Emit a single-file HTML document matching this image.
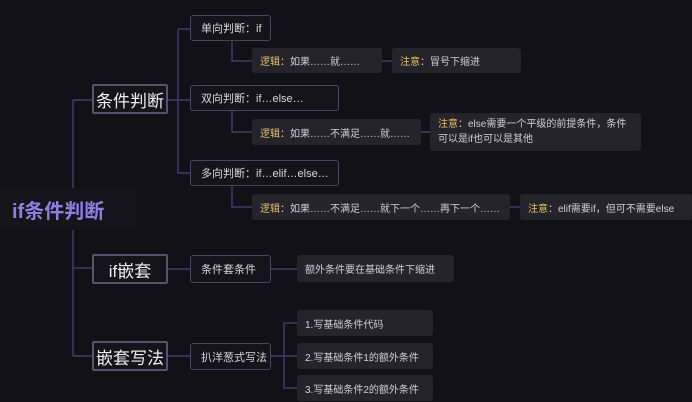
<!DOCTYPE html>
<html><head><meta charset="utf-8"><style>
body{margin:0;width:692px;height:402px;background:#121117;position:relative;overflow:hidden;font-family:"Liberation Sans","Noto Sans CJK SC",sans-serif;color:#d8d8dc}
.b{position:absolute;box-sizing:border-box;display:flex;align-items:center;white-space:nowrap}
.n{border:1.5px solid #4a4660;border-radius:3px;background:#15141b;font-size:11px;padding-left:10px}
.l1{border:2px solid #57526e;border-radius:2px;background:#15141b;font-size:17px;justify-content:center;color:#eee}
.lf{background:#25242b;border-radius:3px;font-size:10px;padding-left:8px;color:#cfcfd4}
.y{color:#e6c06a}
svg{position:absolute;left:0;top:0}
</style></head><body>
<svg width="692" height="402" fill="none" stroke="#3e3a70" stroke-width="1.5">
<path d="M73 100V356M73 100H92M73 268H92M73 356H92M135 209H73"/>
<path d="M168 100H190M178 29V173H190M178 29H190"/>
<path d="M232 41V61H252M382 61H392M232 111V132H252M421 132H430M232 186V207H252M510 207H520"/>
<path d="M168 269H190M271 269H297M168 356H190M271 356H297M284 323V388H297M284 323H297"/>
</svg>
<div class="b" style="left:0px;top:188px;width:136px;height:42px;background:#15141a;font-size:20px;color:#8d80e4;padding-left:12px;font-weight:bold">if条件判断</div>
<div class="b l1" style="left:92px;top:84px;width:76px;height:30px">条件判断</div>
<div class="b l1" style="left:92px;top:254px;width:76px;height:30px">if嵌套</div>
<div class="b l1" style="left:92px;top:341px;width:76px;height:30px">嵌套写法</div>
<div class="b n" style="left:190px;top:15px;width:81px;height:26px">单向判断：if</div>
<div class="b n" style="left:190px;top:85px;width:149px;height:26px">双向判断：if…else…</div>
<div class="b n" style="left:190px;top:160px;width:149px;height:26px">多向判断：if…elif…else…</div>
<div class="b n" style="left:190px;top:255px;width:81px;height:28px">条件套条件</div>
<div class="b n" style="left:190px;top:343px;width:81px;height:27px">扒洋葱式写法</div>
<div class="b lf" style="left:252px;top:48px;width:130px;height:25px"><span class="y">逻辑</span>：如果……就……</div>
<div class="b lf" style="left:392px;top:48px;width:129px;height:25px"><span class="y">注意</span>：冒号下缩进</div>
<div class="b lf" style="left:252px;top:119px;width:169px;height:26px"><span class="y">逻辑</span>：如果……不满足……就……</div>
<div class="b lf" style="left:430px;top:113px;width:211px;height:38px;white-space:normal;line-height:15px;padding-right:6px"><span><span class="y">注意</span>：else需要一个平级的前提条件，条件可以是if也可以是其他</span></div>
<div class="b lf" style="left:252px;top:194px;width:258px;height:26px"><span class="y">逻辑</span>：如果……不满足……就下一个……再下一个……</div>
<div class="b lf" style="left:520px;top:194px;width:172px;height:26px"><span class="y">注意</span>：elif需要if，但可不需要else</div>
<div class="b lf" style="left:297px;top:255px;width:157px;height:27px">额外条件要在基础条件下缩进</div>
<div class="b lf" style="left:297px;top:310px;width:136px;height:26px">1.写基础条件代码</div>
<div class="b lf" style="left:297px;top:343px;width:136px;height:26px">2.写基础条件1的额外条件</div>
<div class="b lf" style="left:297px;top:375px;width:136px;height:26px">3.写基础条件2的额外条件</div>
</body></html>
